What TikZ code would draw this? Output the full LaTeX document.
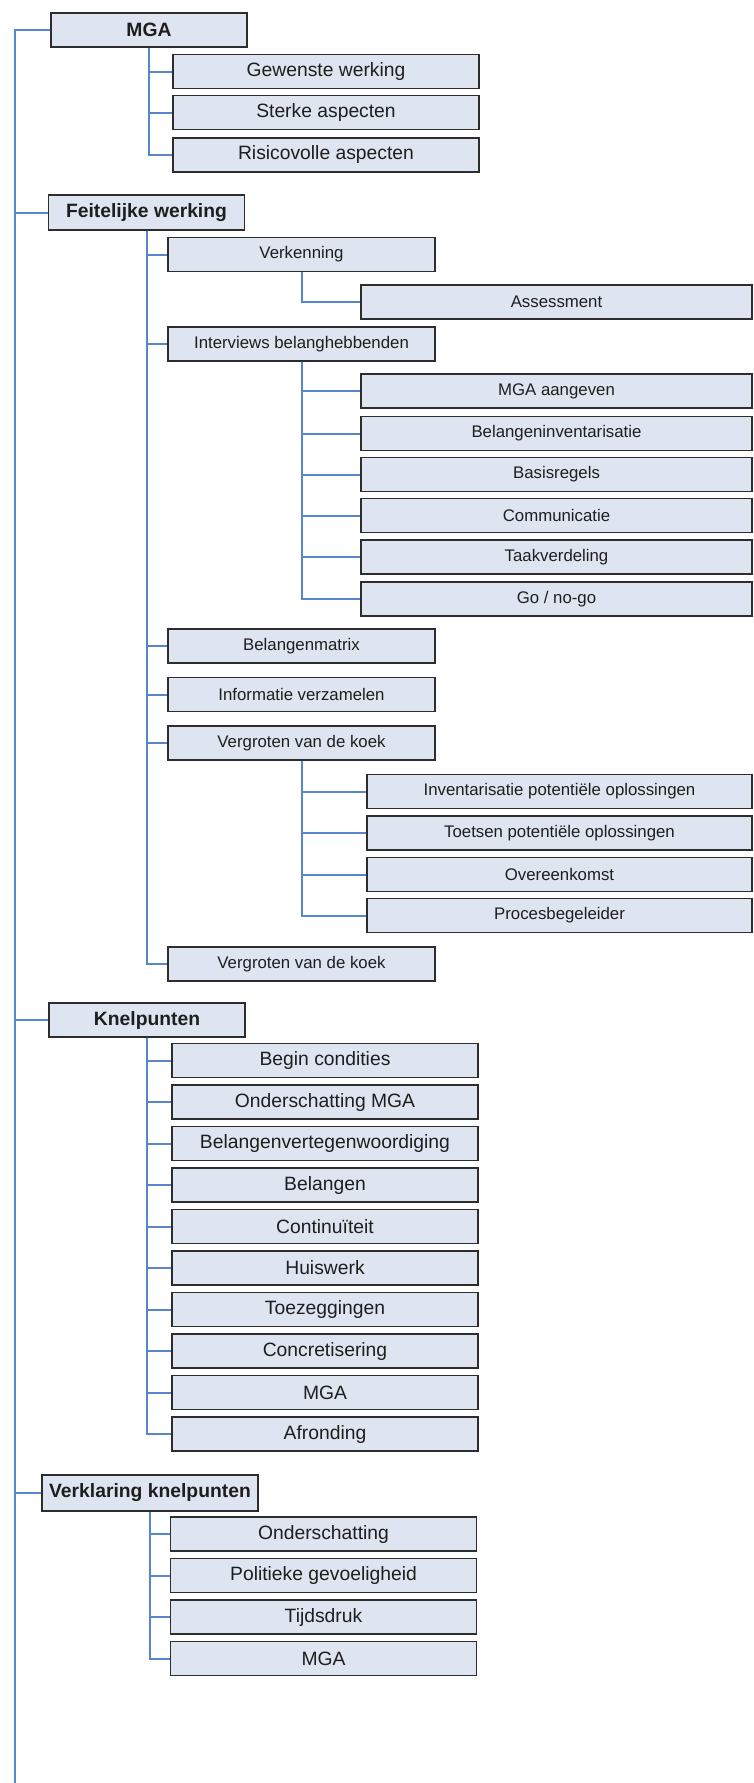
\documentclass[tikz,border=0pt]{standalone}
\usepackage{fontspec}
\setmainfont{Liberation Sans}
\begin{document}
\definecolor{boxfill}{RGB}{222,229,240}
\definecolor{boxline}{RGB}{45,45,45}
\definecolor{link}{RGB}{88,134,204}
\definecolor{ink}{RGB}{30,30,30}
\begin{tikzpicture}[x=1pt,y=-1pt,
  box/.style={draw=boxline,fill=boxfill,line width=1.4pt,rectangle,inner sep=0pt,
    minimum height=34pt,text=ink,align=center},
  big/.style={box,font=\fontsize{19.3}{22}\selectfont},
  small/.style={box,font=\fontsize{16.8}{20}\selectfont},
  head/.style={box,font=\fontsize{19.3}{22}\selectfont\bfseries},
  wA/.style={minimum width=306pt},
  wB/.style={minimum width=267pt},
  wC/.style={minimum width=391pt},
  wD/.style={minimum width=385pt},
  wH/.style={minimum width=196pt},
  conn/.style={draw=link,line width=2pt},
  rail/.style={draw=link,line width=2.4pt}]
\useasboundingbox (0,0) rectangle (753,1783);

% top level
\node[head,wH] (mga) at (149,30) {MGA};
\node[head,wH,minimum height=35pt] (feit) at (146.5,212.5) {Feitelijke werking};
\node[head,wH] (knel) at (147,1020) {Knelpunten};
\node[head,minimum width=216pt,minimum height=36pt] (verkl) at (150,1493) {Verklaring knelpunten};

% MGA
\node[big,wA] (gew) at (326,71.5) {Gewenste werking};
\node[big,wA] (ster) at (326,112.5) {Sterke aspecten};
\node[big,wA] (risi) at (326,155) {Risicovolle aspecten};

% Feitelijke werking
\node[small,wB] (verk) at (301.5,254.5) {Verkenning};
\node[small,wC] (asse) at (556.5,302) {Assessment};
\node[small,wB] (intv) at (301.5,344) {Interviews belanghebbenden};
\node[small,wC] (mgaa) at (556.5,391) {MGA aangeven};
\node[small,wC] (binv) at (556.5,433.5) {Belangeninventarisatie};
\node[small,wC] (basi) at (556.5,474.5) {Basisregels};
\node[small,wC] (comm) at (556.5,515.5) {Communicatie};
\node[small,wC] (taak) at (556.5,557) {Taakverdeling};
\node[small,wC] (gono) at (556.5,599) {Go / no-go};
\node[small,wB] (bmat) at (301.5,646) {Belangenmatrix};
\node[small,wB] (info) at (301.5,694.5) {Informatie verzamelen};
\node[small,wB] (verg) at (301.5,743) {Vergroten van de koek};
\node[small,wD] (ipot) at (559.5,791.5) {Inventarisatie potentiële oplossingen};
\node[small,wD] (tpot) at (559.5,833) {Toetsen potentiële oplossingen};
\node[small,wD] (over) at (559.5,874.5) {Overeenkomst};
\node[small,wD] (proc) at (559.5,915.5) {Procesbegeleider};
\node[small,wB] (vergb) at (301.5,964) {Vergroten van de koek};

% Knelpunten
\node[big,wA] (k1) at (325,1060.5) {Begin condities};
\node[big,wA] (k2) at (325,1102) {Onderschatting MGA};
\node[big,wA] (k3) at (325,1143.5) {Belangenvertegenwoordiging};
\node[big,wA] (k4) at (325,1185) {Belangen};
\node[big,wA] (k5) at (325,1226.5) {Continuïteit};
\node[big,wA] (k6) at (325,1268) {Huiswerk};
\node[big,wA] (k7) at (325,1309.5) {Toezeggingen};
\node[big,wA] (k8) at (325,1351) {Concretisering};
\node[big,wA] (k9) at (325,1392.5) {MGA};
\node[big,wA] (k10) at (325,1434) {Afronding};

% Verklaring knelpunten
\node[big,wA] (v1) at (323.5,1534) {Onderschatting};
\node[big,wA] (v2) at (323.5,1575.5) {Politieke gevoeligheid};
\node[big,wA] (v3) at (323.5,1617) {Tijdsdruk};
\node[big,wA] (v4) at (323.5,1658.5) {MGA};

% main rail
\coordinate (railend) at (15,1783);
\begin{scope}[on background layer/.try]
\draw[rail] (mga.west) -| (railend);
\draw[conn] (railend |- feit.west) -- (feit.west);
\draw[conn] (railend |- knel.west) -- (knel.west);
\draw[conn] (railend |- verkl.west) -- (verkl.west);
\end{scope}

% branches
\foreach \c in {gew,ster,risi} \draw[conn] (mga.south) |- (\c.west);
\foreach \c in {verk,intv,bmat,info,verg,vergb} \draw[conn] (feit.south) |- (\c.west);
\draw[conn] (verk.south) |- (asse.west);
\foreach \c in {mgaa,binv,basi,comm,taak,gono} \draw[conn] (intv.south) |- (\c.west);
\foreach \c in {ipot,tpot,over,proc} \draw[conn] (verg.south) |- (\c.west);
\foreach \c in {k1,k2,k3,k4,k5,k6,k7,k8,k9,k10} \draw[conn] (knel.south) |- (\c.west);
\foreach \c in {v1,v2,v3,v4} \draw[conn] (verkl.south) |- (\c.west);
\end{tikzpicture}
\end{document}
